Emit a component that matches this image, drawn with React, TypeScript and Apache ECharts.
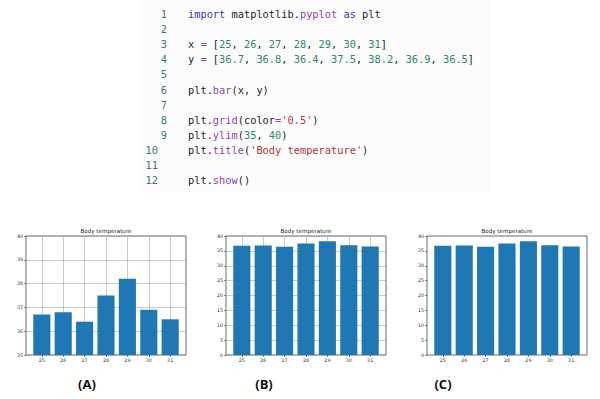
import React, { useEffect, useRef } from "react";
import * as echarts from "echarts";

const categories = [25, 26, 27, 28, 29, 30, 31];
const temps = [36.7, 36.8, 36.4, 37.5, 38.2, 36.9, 36.5];
const chartTitle = "Body temperature";
const panelLabels = ["(A)", "(B)", "(C)"];

const codeLines = [
  "import matplotlib.pyplot as plt",
  "",
  "x = [25, 26, 27, 28, 29, 30, 31]",
  "y = [36.7, 36.8, 36.4, 37.5, 38.2, 36.9, 36.5]",
  "",
  "plt.bar(x, y)",
  "",
  "plt.grid(color='0.5')",
  "plt.ylim(35, 40)",
  "plt.title('Body temperature')",
  "",
  "plt.show()",
];

const panels = [
  { left: 26, yMin: 35, yMax: 40, yInterval: 1, grid: true, labelX: 87 },
  { left: 226, yMin: 0, yMax: 40, yInterval: 5, grid: true, labelX: 264 },
  { left: 427, yMin: 0, yMax: 40, yInterval: 5, grid: false, labelX: 443 },
];

const COLORS = {
  kw: "#3535b5",
  fn: "#8a44b5",
  num: "#2a8a6a",
  str: "#b0353a",
  tx: "#1c1c1c",
  ln: "#3f7585",
};

function tokenize(line: string) {
  const re = /'[^']*'|\d+(?:\.\d+)?|[A-Za-z_]\w*|\s+|./g;
  const out: { text: string; col: number; color: string }[] = [];
  let m: RegExpExecArray | null;
  let prev = "";
  while ((m = re.exec(line))) {
    const t = m[0];
    let color = COLORS.tx;
    if (t.startsWith("'")) color = COLORS.str;
    else if (/^\d/.test(t)) color = COLORS.num;
    else if (t === "import" || t === "as") color = COLORS.kw;
    else if (/^[A-Za-z_]/.test(t) && prev === ".") color = COLORS.fn;
    else if (t === "=") color = COLORS.fn;
    if (!/^\s+$/.test(t)) out.push({ text: t, col: m.index, color });
    prev = t;
  }
  return out;
}

export default function App() {
  const ref = useRef<HTMLDivElement>(null);
  useEffect(() => {
    document.body.style.margin = "0";
    const chart = echarts.init(ref.current!, null, { renderer: "svg" });
    const gridTop = 236;
    const gridH = 119;
    const gridW = 160;
    const fontSize = 10.33;
    const cw = fontSize * 0.602;
    const codeX = 188;
    const lineY0 = 14;
    const lineStep = 15.1;

    const graphics: any[] = [
      {
        type: "rect",
        shape: { x: 140, y: 0, width: 350, height: 192 },
        style: { fill: "#fcfcfc" },
        z: -10,
      },
    ];
    codeLines.forEach((line, i) => {
      const y = lineY0 + i * lineStep;
      const num = String(i + 1);
      graphics.push({
        type: "text",
        x: num.length === 1 ? 167 : 158,
        y,
        style: {
          text: num,
          fill: COLORS.ln,
          font: `${fontSize}px "DejaVu Sans Mono"`,
          align: "right",
          verticalAlign: "middle",
        },
      });
      tokenize(line).forEach((tok) => {
        graphics.push({
          type: "text",
          x: codeX + tok.col * cw,
          y,
          style: {
            text: tok.text,
            fill: tok.color,
            font: `${fontSize}px "DejaVu Sans Mono"`,
            align: "left",
            verticalAlign: "middle",
          },
        });
      });
    });

    panels.forEach((p, i) => {
      graphics.push({
        type: "text",
        x: p.left + gridW / 2,
        y: 231,
        style: {
          text: chartTitle,
          fill: "#222",
          font: '5.6px "DejaVu Sans"',
          align: "center",
          verticalAlign: "middle",
        },
      });
      graphics.push({
        type: "text",
        x: p.labelX,
        y: 384,
        style: {
          text: panelLabels[i],
          fill: "#111",
          font: 'bold 13px "Open Sans"',
          align: "center",
          verticalAlign: "middle",
        },
      });
    });

    const splitStyle = { color: "#a8a8a8", width: 0.6 };
    const labelStyle = { fontSize: 4.8, color: "#333", fontFamily: "DejaVu Sans" };

    chart.setOption({
      animation: false,
      backgroundColor: "#ffffff",
      grid: panels.map((p) => ({
        left: p.left,
        top: gridTop,
        width: gridW,
        height: gridH,
        show: true,
        borderColor: "#444",
        borderWidth: 0.8,
        backgroundColor: "transparent",
        containLabel: false,
      })),
      xAxis: panels.map((p, i) => ({
        type: "value",
        gridIndex: i,
        min: 24.26,
        max: 31.74,
        axisLine: { show: false },
        axisTick: {
          show: true,
          length: 2,
          customValues: categories,
          lineStyle: { color: "#333", width: 0.6 },
        },
        axisLabel: { ...labelStyle, margin: 3, customValues: categories },
        splitLine: { show: p.grid, lineStyle: splitStyle },
      })),
      yAxis: panels.map((p, i) => ({
        type: "value",
        gridIndex: i,
        min: p.yMin,
        max: p.yMax,
        interval: p.yInterval,
        axisLine: { show: false },
        axisTick: { show: true, length: 2, lineStyle: { color: "#333", width: 0.6 } },
        axisLabel: { ...labelStyle, margin: 3 },
        splitLine: { show: p.grid, lineStyle: splitStyle },
      })),
      series: panels.map((p, i) => ({
        type: "bar",
        xAxisIndex: i,
        yAxisIndex: i,
        barWidth: "80%",
        clip: true,
        itemStyle: { color: "#1f77b4" },
        data: categories.map((c, j) => [c, temps[j]]),
      })),
      graphic: graphics,
    });
    return () => chart.dispose();
  }, []);
  return (
    <div
      ref={ref}
      style={{ position: "fixed", left: 0, top: 0, width: 600, height: 399 }}
    />
  );
}
